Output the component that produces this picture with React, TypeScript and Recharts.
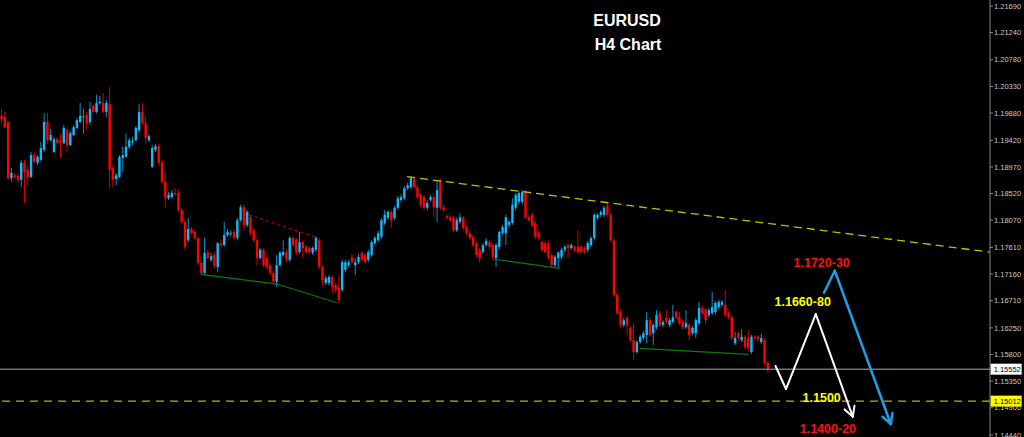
import React from 'react';
import { ComposedChart, Bar, XAxis, YAxis, ReferenceLine, ReferenceDot } from 'recharts';

// [open, high, low, close] – EURUSD H4 candles
const ohlc: [number, number, number, number][] = [
  [1.1983,1.1995,1.1971,1.1978],[1.1981,1.1990,1.1963,1.1964],[1.1973,1.1975,1.1875,1.1878],[1.1878,1.1895,1.1872,1.1887],
  [1.1883,1.1887,1.1877,1.1880],[1.1882,1.1887,1.1870,1.1875],[1.1875,1.1909,1.1863,1.1904],[1.1904,1.1909,1.1836,1.1888],
  [1.1892,1.1899,1.1866,1.1880],[1.1880,1.1922,1.1878,1.1917],[1.1917,1.1921,1.1904,1.1905],[1.1904,1.1917,1.1900,1.1914],
  [1.1909,1.1939,1.1907,1.1929],[1.1926,1.1988,1.1922,1.1973],[1.1973,1.1988,1.1937,1.1942],[1.1942,1.1961,1.1941,1.1951],
  [1.1922,1.1948,1.1921,1.1944],[1.1944,1.1948,1.1934,1.1937],[1.1942,1.1954,1.1912,1.1939],[1.1937,1.1968,1.1936,1.1963],
  [1.1959,1.1964,1.1921,1.1934],[1.1934,1.1958,1.1932,1.1954],[1.1951,1.1968,1.1949,1.1964],[1.1963,1.1980,1.1961,1.1976],
  [1.1973,1.2005,1.1971,1.1983],[1.1983,1.1995,1.1953,1.1983],[1.1985,1.1990,1.1959,1.1971],[1.1973,1.2007,1.1968,1.1995],
  [1.2000,1.2003,1.1988,1.1990],[1.1990,1.2019,1.1988,1.2005],[1.2005,1.2017,1.2002,1.2007],[1.2005,1.2022,1.1988,1.1990],
  [1.1990,1.2010,1.1981,1.2005],[1.2003,1.2032,1.1861,1.1892],[1.1895,1.1899,1.1863,1.1875],[1.1877,1.1887,1.1866,1.1883],
  [1.1880,1.1917,1.1878,1.1914],[1.1912,1.1931,1.1888,1.1917],[1.1914,1.1954,1.1912,1.1931],[1.1931,1.1946,1.1927,1.1942],
  [1.1939,1.1948,1.1934,1.1941],[1.1942,1.1966,1.1941,1.1963],[1.1959,1.2003,1.1956,1.1990],[1.1990,1.2005,1.1968,1.1971],
  [1.1971,1.1983,1.1937,1.1946],[1.1942,1.1953,1.1939,1.1949],[1.1897,1.1934,1.1895,1.1929],[1.1926,1.1936,1.1922,1.1932],
  [1.1932,1.1936,1.1900,1.1904],[1.1905,1.1909,1.1868,1.1872],[1.1872,1.1888,1.1829,1.1844],[1.1844,1.1855,1.1841,1.1850],
  [1.1846,1.1858,1.1843,1.1853],[1.1853,1.1861,1.1848,1.1851],[1.1853,1.1858,1.1821,1.1824],[1.1824,1.1828,1.1801,1.1804],
  [1.1804,1.1807,1.1757,1.1762],[1.1773,1.1811,1.1770,1.1792],[1.1792,1.1795,1.1782,1.1785],[1.1787,1.1790,1.1773,1.1777],
  [1.1777,1.1779,1.1731,1.1735],[1.1735,1.1738,1.1714,1.1718],[1.1718,1.1777,1.1714,1.1752],[1.1752,1.1757,1.1740,1.1743],
  [1.1740,1.1752,1.1736,1.1746],[1.1748,1.1753,1.1726,1.1730],[1.1728,1.1770,1.1719,1.1768],[1.1768,1.1773,1.1762,1.1765],
  [1.1765,1.1804,1.1762,1.1782],[1.1782,1.1792,1.1779,1.1787],[1.1784,1.1790,1.1780,1.1785],[1.1787,1.1792,1.1773,1.1777],
  [1.1777,1.1811,1.1773,1.1807],[1.1807,1.1833,1.1804,1.1829],[1.1829,1.1833,1.1790,1.1799],[1.1799,1.1824,1.1795,1.1821],
  [1.1812,1.1816,1.1782,1.1785],[1.1790,1.1794,1.1770,1.1773],[1.1773,1.1777,1.1731,1.1743],[1.1743,1.1760,1.1740,1.1757],
  [1.1757,1.1760,1.1728,1.1731],[1.1743,1.1746,1.1724,1.1728],[1.1731,1.1735,1.1714,1.1718],[1.1718,1.1721,1.1699,1.1703],
  [1.1703,1.1748,1.1694,1.1731],[1.1731,1.1755,1.1728,1.1752],[1.1748,1.1773,1.1745,1.1753],[1.1753,1.1757,1.1736,1.1740],
  [1.1740,1.1780,1.1736,1.1777],[1.1777,1.1780,1.1762,1.1765],[1.1773,1.1777,1.1748,1.1752],[1.1753,1.1787,1.1750,1.1770],
  [1.1770,1.1773,1.1743,1.1760],[1.1762,1.1765,1.1750,1.1753],[1.1760,1.1763,1.1750,1.1753],[1.1752,1.1763,1.1748,1.1760],
  [1.1757,1.1780,1.1753,1.1777],[1.1773,1.1777,1.1724,1.1728],[1.1728,1.1731,1.1697,1.1706],[1.1701,1.1713,1.1697,1.1709],
  [1.1701,1.1714,1.1697,1.1711],[1.1711,1.1714,1.1684,1.1694],[1.1697,1.1701,1.1684,1.1689],[1.1694,1.1714,1.1667,1.1672],
  [1.1689,1.1740,1.1686,1.1736],[1.1723,1.1740,1.1719,1.1736],[1.1731,1.1740,1.1728,1.1736],[1.1745,1.1750,1.1733,1.1736],
  [1.1731,1.1743,1.1714,1.1736],[1.1736,1.1750,1.1733,1.1745],[1.1752,1.1755,1.1736,1.1740],[1.1748,1.1752,1.1733,1.1736],
  [1.1740,1.1757,1.1736,1.1753],[1.1748,1.1773,1.1745,1.1770],[1.1768,1.1780,1.1765,1.1777],[1.1773,1.1789,1.1770,1.1785],
  [1.1779,1.1811,1.1775,1.1807],[1.1802,1.1824,1.1799,1.1816],[1.1811,1.1824,1.1807,1.1821],[1.1821,1.1824,1.1794,1.1807],
  [1.1811,1.1831,1.1807,1.1828],[1.1828,1.1848,1.1824,1.1844],[1.1841,1.1851,1.1838,1.1846],[1.1844,1.1865,1.1841,1.1861],
  [1.1861,1.1870,1.1858,1.1866],[1.1863,1.1882,1.1860,1.1878],[1.1877,1.1880,1.1860,1.1863],[1.1863,1.1866,1.1843,1.1846],
  [1.1850,1.1853,1.1829,1.1833],[1.1846,1.1850,1.1824,1.1828],[1.1828,1.1841,1.1824,1.1836],[1.1841,1.1850,1.1838,1.1846],
  [1.1846,1.1850,1.1812,1.1829],[1.1828,1.1875,1.1804,1.1858],[1.1875,1.1877,1.1824,1.1828],[1.1829,1.1833,1.1821,1.1824],
  [1.1814,1.1817,1.1807,1.1811],[1.1812,1.1816,1.1804,1.1807],[1.1811,1.1814,1.1787,1.1790],[1.1790,1.1811,1.1787,1.1807],
  [1.1804,1.1819,1.1801,1.1812],[1.1811,1.1814,1.1790,1.1794],[1.1795,1.1799,1.1782,1.1785],[1.1785,1.1789,1.1773,1.1777],
  [1.1779,1.1782,1.1762,1.1765],[1.1768,1.1772,1.1745,1.1748],[1.1757,1.1760,1.1735,1.1743],[1.1753,1.1768,1.1750,1.1765],
  [1.1765,1.1777,1.1762,1.1772],[1.1770,1.1773,1.1758,1.1762],[1.1765,1.1768,1.1741,1.1745],[1.1743,1.1768,1.1728,1.1765],
  [1.1762,1.1790,1.1758,1.1787],[1.1785,1.1799,1.1782,1.1795],[1.1785,1.1816,1.1765,1.1812],[1.1799,1.1807,1.1795,1.1804],
  [1.1802,1.1844,1.1799,1.1833],[1.1828,1.1853,1.1824,1.1850],[1.1838,1.1856,1.1834,1.1853],[1.1838,1.1858,1.1834,1.1855],
  [1.1855,1.1858,1.1809,1.1812],[1.1812,1.1816,1.1804,1.1807],[1.1816,1.1819,1.1795,1.1799],[1.1802,1.1806,1.1775,1.1779],
  [1.1785,1.1789,1.1773,1.1777],[1.1770,1.1773,1.1753,1.1757],[1.1768,1.1772,1.1750,1.1753],[1.1768,1.1772,1.1741,1.1745],
  [1.1748,1.1752,1.1728,1.1731],[1.1731,1.1748,1.1728,1.1745],[1.1743,1.1755,1.1726,1.1752],[1.1745,1.1760,1.1741,1.1757],
  [1.1757,1.1765,1.1753,1.1762],[1.1765,1.1768,1.1743,1.1760],[1.1760,1.1768,1.1757,1.1765],[1.1762,1.1765,1.1753,1.1757],
  [1.1762,1.1790,1.1750,1.1753],[1.1762,1.1765,1.1750,1.1753],[1.1760,1.1763,1.1750,1.1753],[1.1757,1.1772,1.1753,1.1768],
  [1.1765,1.1780,1.1762,1.1777],[1.1777,1.1819,1.1773,1.1816],[1.1811,1.1819,1.1807,1.1816],[1.1816,1.1824,1.1812,1.1821],
  [1.1816,1.1831,1.1812,1.1828],[1.1831,1.1836,1.1812,1.1816],[1.1816,1.1819,1.1770,1.1773],[1.1773,1.1777,1.1677,1.1681],
  [1.1681,1.1684,1.1647,1.1650],[1.1652,1.1655,1.1626,1.1630],[1.1630,1.1642,1.1626,1.1638],[1.1642,1.1645,1.1613,1.1630],
  [1.1625,1.1628,1.1601,1.1604],[1.1604,1.1633,1.1571,1.1584],[1.1584,1.1604,1.1581,1.1601],[1.1601,1.1613,1.1598,1.1610],
  [1.1608,1.1620,1.1604,1.1616],[1.1613,1.1652,1.1599,1.1638],[1.1638,1.1642,1.1610,1.1613],[1.1616,1.1633,1.1596,1.1630],
  [1.1626,1.1655,1.1623,1.1647],[1.1650,1.1654,1.1626,1.1630],[1.1630,1.1638,1.1626,1.1635],[1.1642,1.1655,1.1632,1.1635],
  [1.1630,1.1642,1.1626,1.1638],[1.1635,1.1664,1.1632,1.1643],[1.1652,1.1655,1.1640,1.1643],[1.1643,1.1652,1.1630,1.1633],
  [1.1635,1.1638,1.1623,1.1626],[1.1626,1.1655,1.1623,1.1633],[1.1630,1.1633,1.1604,1.1613],[1.1616,1.1628,1.1613,1.1625],
  [1.1616,1.1642,1.1608,1.1638],[1.1633,1.1669,1.1630,1.1659],[1.1659,1.1662,1.1647,1.1650],[1.1655,1.1659,1.1630,1.1638],
  [1.1647,1.1659,1.1643,1.1655],[1.1650,1.1686,1.1647,1.1660],[1.1652,1.1670,1.1648,1.1667],[1.1660,1.1672,1.1657,1.1669],
  [1.1664,1.1672,1.1660,1.1669],[1.1664,1.1689,1.1643,1.1647],[1.1650,1.1654,1.1640,1.1643],[1.1643,1.1647,1.1604,1.1608],
  [1.1599,1.1618,1.1596,1.1608],[1.1616,1.1620,1.1604,1.1608],[1.1604,1.1623,1.1601,1.1610],[1.1610,1.1613,1.1589,1.1593],
  [1.1608,1.1621,1.1584,1.1591],[1.1584,1.1613,1.1581,1.1610],[1.1610,1.1613,1.1604,1.1608],[1.1610,1.1613,1.1603,1.1606],
  [1.1601,1.1615,1.1598,1.1608],[1.1604,1.1608,1.1562,1.1566],[1.1566,1.1569,1.1549,1.1555],
];

const priceTicks = [1.2169, 1.2124, 1.2078, 1.2033, 1.1988, 1.1942, 1.1897, 1.1852, 1.1807, 1.1761, 1.1716, 1.1671, 1.1625, 1.158, 1.1535, 1.149, 1.1444];
const yDomain: [number, number] = [1.14406, 1.21791];
const xDomain: [number, number] = [-0.52, 301.8];
const bidPrice = 1.15552;
const levelPrice = 1.15012;

type P = { x: number; y: number };
const resistanceLine: P[] = [{ x: 123.8, y: 1.18805 }, { x: 301.7, y: 1.1753 }];
const redTrend: P[] = [{ x: 75.5, y: 1.1816 }, { x: 95.7, y: 1.1779 }];
const greenLines: P[][] = [
  [{ x: 60.8, y: 1.17155 }, { x: 84.0, y: 1.16991 }, { x: 102.4, y: 1.16675 }],
  [{ x: 150.1, y: 1.17414 }, { x: 170.3, y: 1.17257 }],
  [{ x: 194.9, y: 1.15905 }, { x: 228.0, y: 1.15803 }],
];
const whitePath: P[] = [{ x: 236.3, y: 1.15606 }, { x: 239.5, y: 1.15217 }, { x: 248.6, y: 1.16484 }, { x: 259.9, y: 1.14749 }];
const bluePath: P[] = [{ x: 251.1, y: 1.16844 }, { x: 254.4, y: 1.17216 }, { x: 271.5, y: 1.14626 }];
const notes = [
  { text: '1.1720-30', x: 250.4, y: 1.17341, color: '#ff1010' },
  { text: '1.1660-80', x: 244.6, y: 1.16692, color: '#ffff00' },
  { text: '1.1500', x: 250.4, y: 1.1507, color: '#ffff00' },
  { text: '1.1400-20', x: 252.3, y: 1.14541, color: '#ff1010' },
];

const data = ohlc.map((c, i) => ({ i, range: [c[2], c[1]], o: c[0], h: c[1], l: c[2], c: c[3] }));

const UP = '#14b8f8';
const DOWN = '#ff0000';
const DOJI = '#00c000';
const FONT = 'Liberation Sans, Arial, sans-serif';

const Candle = (props: any) => {
  const { x, y, width, height, payload } = props;
  if (x == null || y == null) return null;
  const top = Math.min(y, y + height);
  const span = Math.abs(height);
  const { o, h, l, c } = payload;
  const rng = h - l || 1;
  const py = (v: number) => top + ((h - v) / rng) * span;
  const cx = x + width / 2;
  const bt = py(Math.max(o, c));
  const bb = py(Math.min(o, c));
  const col = c > o ? UP : c < o ? DOWN : DOJI;
  const wick = c > o ? '#1090c8' : c < o ? '#d80000' : DOJI;
  return (
    <g>
      <line x1={cx} x2={cx} y1={top} y2={top + span} stroke={wick} strokeWidth={1} />
      <rect x={cx - 1.2} y={bt} width={2.4} height={Math.max(1, bb - bt)} fill={col} />
    </g>
  );
};

const arrowShape = (color: string, w: number, head: boolean) => (p: any) => {
  const { x1, y1, x2, y2 } = p;
  if (x1 == null) return null;
  const ang = Math.atan2(y2 - y1, x2 - x1);
  const L = 11;
  const a = 0.5;
  return (
    <g>
      <line x1={x1} y1={y1} x2={x2} y2={y2} stroke={color} strokeWidth={w} strokeLinecap="round" />
      {head && (
        <>
          <line x1={x2} y1={y2} x2={x2 - L * Math.cos(ang - a)} y2={y2 - L * Math.sin(ang - a)} stroke={color} strokeWidth={w} strokeLinecap="round" />
          <line x1={x2} y1={y2} x2={x2 - L * Math.cos(ang + a)} y2={y2 - L * Math.sin(ang + a)} stroke={color} strokeWidth={w} strokeLinecap="round" />
        </>
      )}
    </g>
  );
};

const segs = (pts: P[]) => pts.slice(1).map((p, k) => [pts[k], p] as [P, P]);

const priceBox = (bg: string, label: string) => (p: any) => {
  const { cx, cy } = p;
  if (cx == null) return null;
  return (
    <g>
      <rect x={cx + 1} y={cy - 5.5} width={31} height={11} fill={bg} />
      <text x={cx + 4} y={cy + 3} fontSize={7.5} fontFamily={FONT} fill="#000">
        {label}
      </text>
    </g>
  );
};

export default function App() {
  return (
    <div style={{ position: 'fixed', left: 0, top: 0, width: 1024, height: 437, background: '#000', overflow: 'hidden' }}>
      <ComposedChart width={1024} height={437} data={data} margin={{ top: 0, right: 0, bottom: 0, left: 0 }}>
        <XAxis dataKey="i" type="number" domain={xDomain} allowDataOverflow hide />
        <YAxis
          orientation="right"
          width={34}
          type="number"
          domain={yDomain}
          allowDataOverflow
          ticks={priceTicks}
          interval={0}
          tickFormatter={(v: number) => v.toFixed(5)}
          tick={{ fill: '#c8c8c8', fontSize: 7.5, fontFamily: FONT, textAnchor: 'start' }}
          tickSize={3}
          tickMargin={1}
          axisLine={{ stroke: '#8a8a8a' }}
          tickLine={{ stroke: '#8a8a8a' }}
        />
        <ReferenceLine y={bidPrice} stroke="#a8b0bc" strokeWidth={1} />
        <ReferenceLine y={levelPrice} stroke="#b4b400" strokeWidth={1.3} strokeDasharray="8 6" />
        <ReferenceLine segment={resistanceLine} stroke="#c0c000" strokeWidth={1.3} strokeDasharray="8 5" />
        <ReferenceLine segment={redTrend} stroke="#b00000" strokeWidth={1.2} strokeDasharray="3 3" />
        {greenLines.flatMap((g, gi) =>
          segs(g).map((s, k) => <ReferenceLine key={`g${gi}-${k}`} segment={s} stroke="#0a7a0a" strokeWidth={1.2} />)
        )}
        <Bar dataKey="range" barSize={3} shape={Candle} isAnimationActive={false} />
        {segs(whitePath).map((s, k, arr) => (
          <ReferenceLine key={`w${k}`} segment={s} shape={arrowShape('#ffffff', 2, k === arr.length - 1)} />
        ))}
        {segs(bluePath).map((s, k, arr) => (
          <ReferenceLine key={`b${k}`} segment={s} shape={arrowShape('#1e9ee4', 2.5, k === arr.length - 1)} />
        ))}
        {notes.map((n) => (
          <ReferenceDot
            key={n.text}
            x={n.x}
            y={n.y}
            r={0}
            shape={(p: any) =>
              p.cx == null ? null : (
                <text x={p.cx} y={p.cy} textAnchor="middle" dominantBaseline="central" fill={n.color} fontSize={12.5} fontWeight="bold" fontFamily={FONT}>
                  {n.text}
                </text>
              )
            }
          />
        ))}
        <ReferenceDot x={301.7} y={bidPrice} r={0} shape={priceBox('#ffffff', bidPrice.toFixed(5))} />
        <ReferenceDot x={301.7} y={levelPrice} r={0} shape={priceBox('#ffff00', levelPrice.toFixed(5))} />
      </ComposedChart>
      <div style={{ position: 'absolute', left: 527, top: 12, width: 200, textAlign: 'center', color: '#fff', fontFamily: FONT, fontWeight: 'bold', fontSize: 16, lineHeight: '18px' }}>
        EURUSD
      </div>
      <div style={{ position: 'absolute', left: 528, top: 36, width: 200, textAlign: 'center', color: '#fff', fontFamily: FONT, fontWeight: 'bold', fontSize: 16, lineHeight: '18px' }}>
        H4 Chart
      </div>
    </div>
  );
}
